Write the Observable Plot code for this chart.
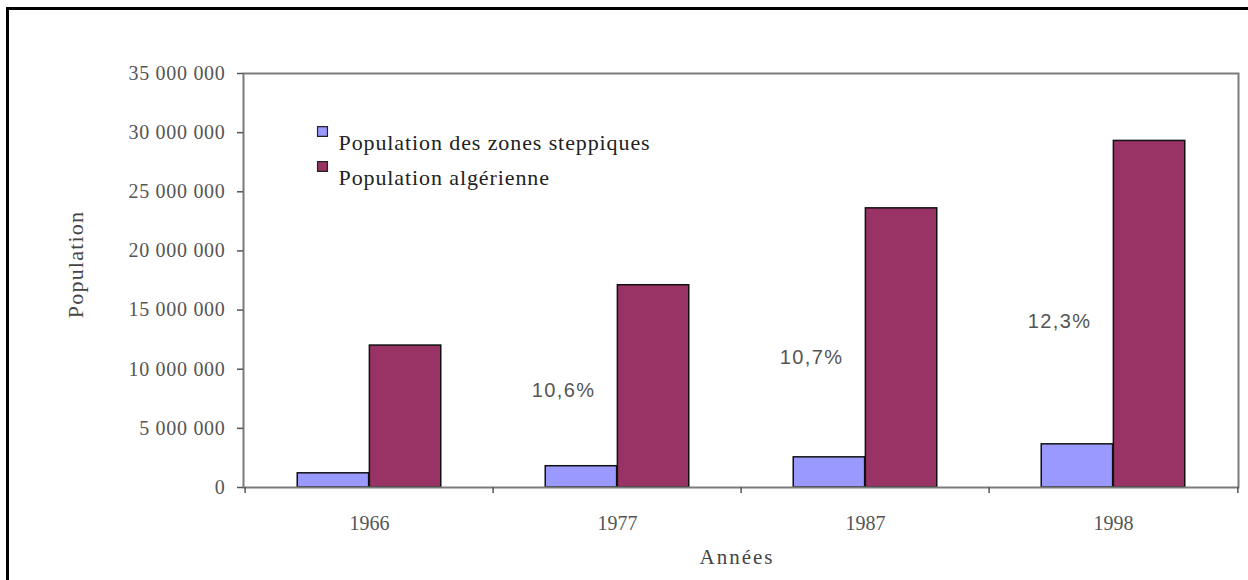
<!DOCTYPE html>
<html>
<head>
<meta charset="utf-8">
<script src="https://cdn.jsdelivr.net/npm/d3@7"></script>
<script src="https://cdn.jsdelivr.net/npm/@observablehq/plot@0.6"></script>
<style>
  html, body { margin: 0; padding: 0; background: #fff; }
  #wrap { position: relative; width: 1248px; height: 580px; overflow: hidden; }
  #border { position: absolute; left: 6px; top: 7px; width: 1300px; height: 700px;
            border-left: 3px solid #000; border-top: 3px solid #000; box-sizing: border-box; }
  #chart { position: absolute; left: 0; top: 0; }
  g[aria-label="y-axis tick label"] text { letter-spacing: 0.7px; }
</style>
</head>
<body>
<div id="wrap"><div id="border"></div><div id="chart"></div></div>
<script>
// ---- data ----
const years = ["1966", "1977", "1987", "1998"];
const steppePop = [1200000, 1800000, 2550000, 3650000];   // Population des zones steppiques
const algeriaPop = [12000000, 17100000, 23600000, 29300000]; // Population algérienne
const seriesNames = ["Population des zones steppiques", "Population algérienne"];
const seriesColors = ["#9999ff", "#993366"];
const pctYears = ["1977", "1987", "1998"];
const pctLabels = ["10,6%", "10,7%", "12,3%"];
const pctLabelY = [8200000, 11000000, 14000000];
const yTicks = [0, 5000000, 10000000, 15000000, 20000000, 25000000, 30000000, 35000000];

// ---- build table ----
const rows = [];
years.forEach((yr, i) => {
  rows.push({year: yr, series: seriesNames[0], value: steppePop[i]});
  rows.push({year: yr, series: seriesNames[1], value: algeriaPop[i]});
});
const pctRows = pctYears.map((yr, i) => ({year: yr, label: pctLabels[i], y: pctLabelY[i]}));

const W = 1248, H = 580;
const mL = 243, mR = 10, mT = 73, mB = 93;
const bw = (W - mL - mR) / years.length;
const barW = bw * 0.29;

const frFmt = d3.formatLocale({decimal: ",", thousands: " ", grouping: [3], currency: ["", " €"]}).format(",d");
const serif = "'Liberation Serif', 'Times New Roman', serif";

const legendMarks = seriesNames.flatMap((name, i) => [
  Plot.dot([name], {
    frameAnchor: "top-left", dx: 79, dy: 58 + i * 35, symbol: "square", r: 5.6,
    fill: seriesColors[i], stroke: "#222", strokeWidth: 1.2
  }),
  Plot.text([name], {
    frameAnchor: "top-left", dx: 95, dy: 61 + i * 35, textAnchor: "start",
    fontSize: 22, fill: "#222", fontFamily: serif
  })
]);

const chart = Plot.plot({
  width: W, height: H,
  marginLeft: mL, marginRight: mR, marginTop: mT, marginBottom: mB,
  style: {fontFamily: serif, background: "transparent"},
  x: {domain: years, padding: 0, axis: null},
  y: {domain: [0, 35000000], axis: null},
  marks: [
    Plot.barY(rows.filter(d => d.series === seriesNames[0]), {
      x: "year", y: "value", fill: seriesColors[0], stroke: "#111", strokeWidth: 1.5,
      insetLeft: bw / 2 - barW, insetRight: bw / 2
    }),
    Plot.barY(rows.filter(d => d.series === seriesNames[1]), {
      x: "year", y: "value", fill: seriesColors[1], stroke: "#111", strokeWidth: 1.5,
      insetLeft: bw / 2, insetRight: bw / 2 - barW
    }),
    Plot.frame({stroke: "#7a7a7a", strokeWidth: 2}),
    Plot.axisY({
      ticks: yTicks, tickFormat: frFmt, tickSize: 6, tickPadding: 12,
      fontSize: 20, fill: "#555", stroke: "#555", strokeWidth: 1.5, label: null
    }),
    Plot.axisX({
      tickSize: 0, tickPadding: 28, fontSize: 20, fill: "#555", label: null
    }),
    Plot.axisX(years, {tickSize: 6, text: null, dx: -bw / 2, stroke: "#555", strokeWidth: 1.5, label: null}),
    Plot.axisX([years[years.length - 1]], {tickSize: 6, text: null, dx: bw / 2, stroke: "#555", strokeWidth: 1.5, label: null}),
    Plot.text(["Population"], {
      frameAnchor: "left", textAnchor: "middle", dx: -168, dy: -16, rotate: -90,
      fontSize: 22, fill: "#444", fontFamily: serif
    }),
    Plot.text(["Années"], {
      frameAnchor: "bottom", dx: -4, dy: 76,
      fontSize: 21, fill: "#444", fontFamily: serif
    }),
    Plot.text(pctRows, {
      x: "year", y: "y", text: "label", dx: -54,
      fontSize: 20, fill: "#555", fontFamily: "'Liberation Sans', Arial, sans-serif"
    }),
    ...legendMarks
  ]
});
// letter spacing to mimic the widely spaced text of the original
const spacing = new Map([
  ...seriesNames.map(s => [s, "0.9px"]),
  ["Population", "1.2px"],
  ["Années", "2px"],
  ...pctLabels.map(s => [s, "1.4px"])
]);
d3.select(chart).selectAll("text").each(function () {
  const t = this.textContent;
  if (spacing.has(t)) this.style.letterSpacing = spacing.get(t);
});
document.getElementById("chart").appendChild(chart);
</script>
</body>
</html>
